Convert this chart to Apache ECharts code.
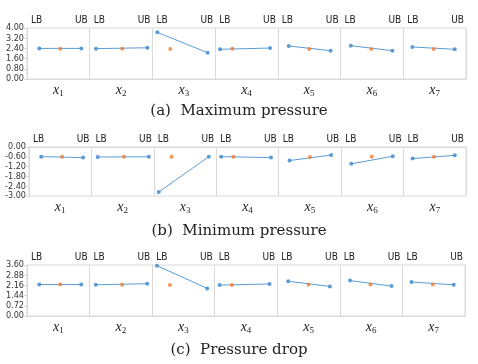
<!DOCTYPE html>
<html><head><meta charset="utf-8">
<script src="https://cdn.jsdelivr.net/npm/echarts@6/dist/echarts.min.js"></script>
<style>html,body{margin:0;padding:0;background:#fff}#c{width:478px;height:364px}</style>
</head><body><div id="c"></div>
<script>
// categories (design variables x1..x7)
const varNames = ['1','2','3','4','5','6','7'];
// horizontal position of LB / optimum / UB points inside each variable's panel (0..1)
const posLB  = [0.196, 0.10, 0.078, 0.078, 0.174, 0.163, 0.145];
const posOpt = [0.531, 0.52, 0.285, 0.274, 0.50, 0.49, 0.486];
const posUB  = [0.866, 0.92, 0.88, 0.876, 0.84, 0.826, 0.82];
// (a) Maximum pressure
const maxLB  = [2.40, 2.38, 3.66, 2.33, 2.59, 2.61, 2.51];
const maxOpt = [2.38, 2.38, 2.35, 2.37, 2.35, 2.35, 2.35];
const maxUB  = [2.40, 2.45, 2.06, 2.43, 2.22, 2.22, 2.33];
// (b) Minimum pressure
const minLB  = [-0.59, -0.61, -2.76, -0.59, -0.83, -1.03, -0.71];
const minOpt = [-0.59, -0.60, -0.59, -0.59, -0.61, -0.59, -0.59];
const minUB  = [-0.65, -0.60, -0.59, -0.65, -0.49, -0.57, -0.51];
// (c) Pressure drop
const dropLB  = [2.22, 2.20, 3.55, 2.18, 2.45, 2.50, 2.40];
const dropOpt = [2.22, 2.20, 2.18, 2.18, 2.23, 2.23, 2.23];
const dropUB  = [2.22, 2.28, 1.95, 2.26, 2.09, 2.11, 2.20];
// captions and y scales
const captions = ['(a)  Maximum pressure', '(b)  Minimum pressure', '(c)  Pressure drop'];
const yMin = [0, -3, 0];
const yMax = [4, 0, 3.6];
const yStep = [0.8, 0.6, 0.72];

const charts = [[maxLB, maxOpt, maxUB], [minLB, minOpt, minUB], [dropLB, dropOpt, dropUB]];
const gridPos = [
  {left: 27, right: 12, top: 28, height: 51},
  {left: 29, right: 12, top: 147, height: 49},
  {left: 27, right: 13, top: 265, height: 51}
];
const captionTop = [99, 219, 338];
const BLUE = '#5B9BD5', ORANGE = '#ED7D31', GREY = '#d9d9d9';
const labFont = '"Liberation Sans Narrow","DejaVu Sans Condensed",sans-serif';

const grid = [], xAxis = [], yAxis = [], series = [], title = [];
charts.forEach((c, g) => {
  grid.push(Object.assign({show: true, borderColor: GREY, borderWidth: 1}, gridPos[g]));
  xAxis.push({type: 'value', gridIndex: g, min: 0, max: 7, interval: 1, position: 'bottom',
    axisLine: {show: true, lineStyle: {color: GREY}}, axisTick: {show: false},
    axisLabel: {show: false}, splitLine: {show: true, lineStyle: {color: GREY, width: 1}}});
  xAxis.push({type: 'category', gridIndex: g, position: 'bottom', data: varNames, boundaryGap: true,
    axisLine: {show: false}, axisTick: {show: false},
    axisLabel: {margin: 3, formatter: v => '{x|x}{s|' + v + '}',
      rich: {x: {fontFamily: '"Liberation Serif",serif', fontStyle: 'italic', fontSize: 14, color: '#222'},
             s: {fontFamily: '"Liberation Serif",serif', fontSize: 9, color: '#222', padding: [7, 0, 0, 0]}}}});
  xAxis.push({type: 'value', gridIndex: g, min: 0, max: 7, interval: 1, position: 'top',
    axisLine: {show: false}, axisTick: {show: false}, splitLine: {show: false},
    axisLabel: {align: 'left', margin: 3, padding: [0, 0, 0, 4], fontFamily: labFont, fontSize: 10, color: '#222',
      formatter: v => v < 7 ? 'LB' : ''}});
  xAxis.push({type: 'value', gridIndex: g, min: 0, max: 7, interval: 1, position: 'top',
    axisLine: {show: false}, axisTick: {show: false}, splitLine: {show: false},
    axisLabel: {align: 'right', margin: 3, padding: [0, 2, 0, 0], fontFamily: labFont, fontSize: 10, color: '#222',
      formatter: v => v > 0 ? 'UB' : ''}});
  yAxis.push({type: 'value', gridIndex: g, min: yMin[g], max: yMax[g], interval: yStep[g],
    axisLine: {show: true, lineStyle: {color: GREY}}, axisTick: {show: true, length: 3, lineStyle: {color: GREY}},
    splitLine: {show: false},
    axisLabel: {margin: 3, fontFamily: labFont, fontSize: 9, color: '#333', formatter: v => v.toFixed(2)}});
  const [lb, opt, ub] = c;
  varNames.forEach((n, i) => {
    series.push({type: 'line', xAxisIndex: g * 4, yAxisIndex: g, symbol: 'circle', symbolSize: 4,
      itemStyle: {color: BLUE}, lineStyle: {color: BLUE, width: 1}, silent: true, animation: false,
      data: [[i + posLB[i], lb[i]], [i + posUB[i], ub[i]]]});
  });
  series.push({type: 'scatter', xAxisIndex: g * 4, yAxisIndex: g, symbol: 'circle', symbolSize: 4,
    itemStyle: {color: ORANGE}, animation: false, z: 5,
    data: varNames.map((n, i) => [i + posOpt[i], opt[i]])});
  title.push({text: captions[g], left: 'center', top: captionTop[g],
    textStyle: {fontFamily: '"DejaVu Serif",serif', fontWeight: 'normal', fontSize: 15, color: '#222'}});
});

const chart = echarts.init(document.getElementById('c'), null, {renderer: 'canvas'});
chart.setOption({animation: false, title, grid, xAxis, yAxis, series});
</script></body></html>
